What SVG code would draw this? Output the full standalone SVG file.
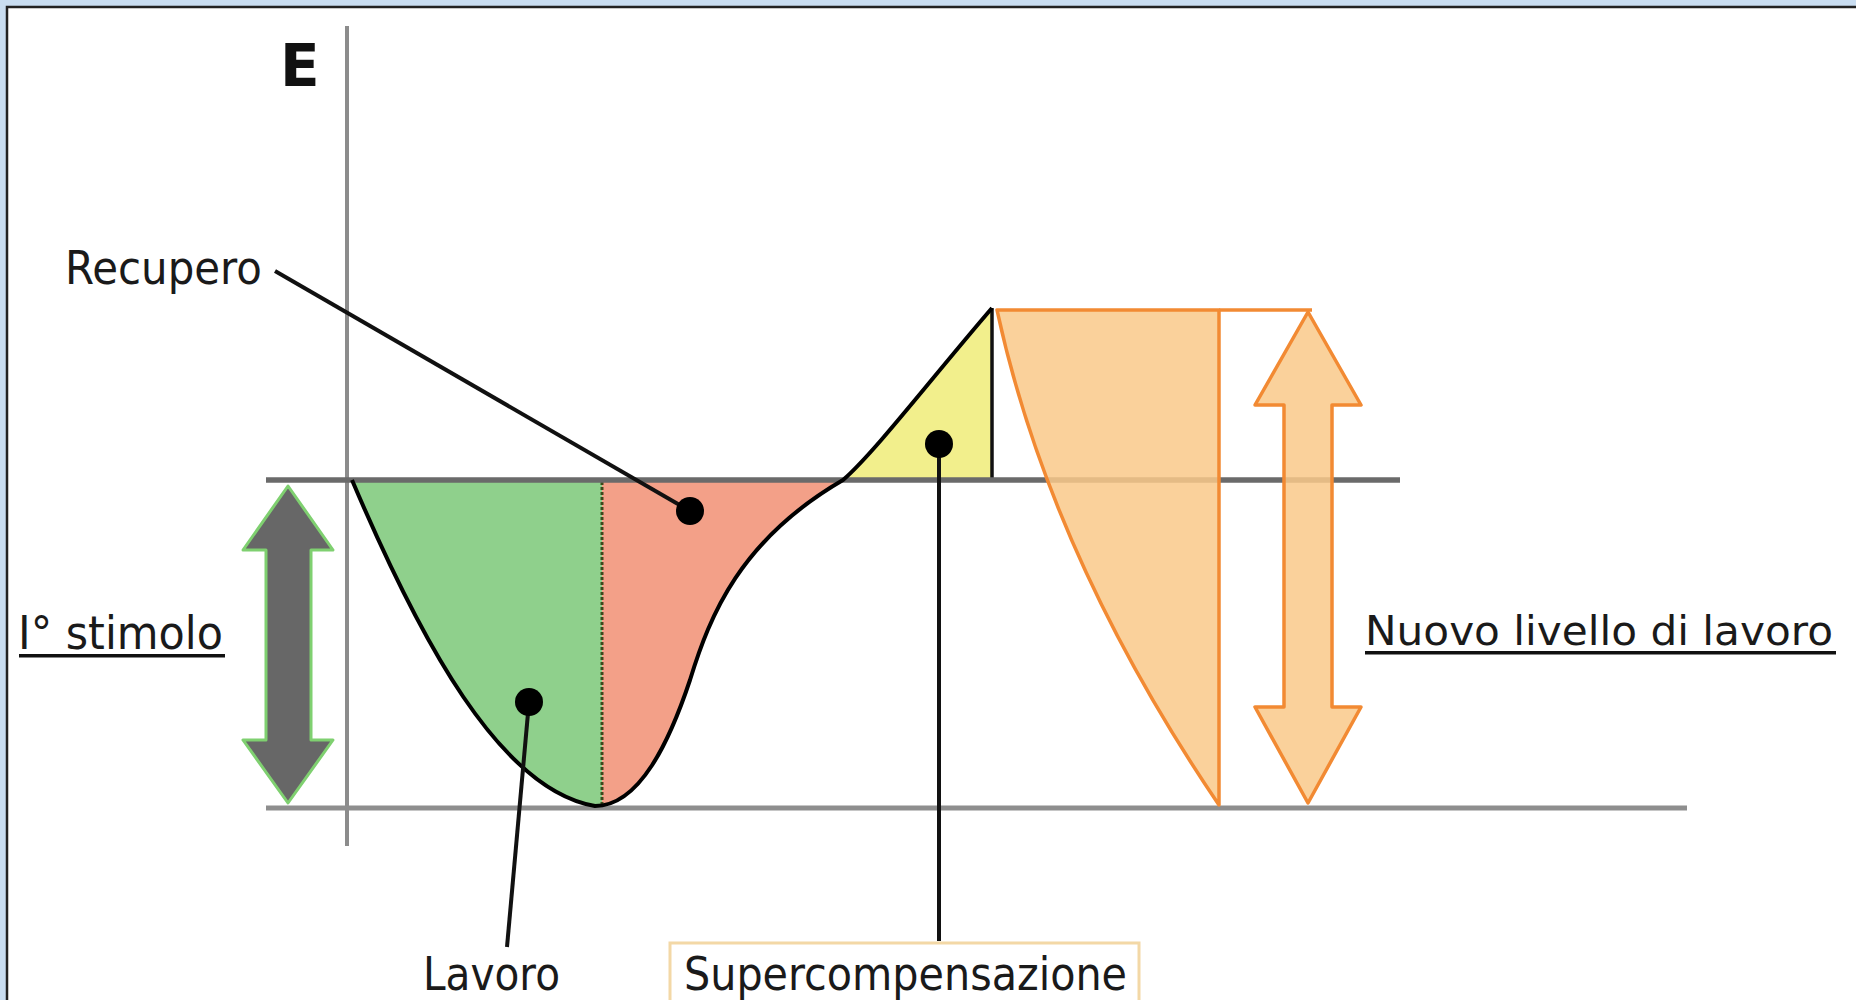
<svg xmlns="http://www.w3.org/2000/svg" width="1856" height="1000" viewBox="0 0 1856 1000">
<defs>
<style>
.lbl{font-family:"DejaVu Sans","Verdana",sans-serif;font-size:46px;fill:#1a1a1a}
.lbl-sm{font-family:"DejaVu Sans","Verdana",sans-serif;font-size:41px;fill:#1a1a1a}
.lead{stroke:#111;stroke-width:4;fill:none}
.dot{fill:#000}
.orange{fill:#f9c98a;stroke:#f28a33;stroke-width:3.5;stroke-linejoin:round}
.curve{fill:none;stroke:#000;stroke-width:4;stroke-linejoin:round}
</style>
<clipPath id="leftClip"><rect x="300" y="470" width="302" height="350"/></clipPath>
<clipPath id="rightClip"><rect x="602" y="470" width="300" height="350"/></clipPath>
</defs>
<rect x="0" y="0" width="1856" height="1000" fill="#c9ddf1"/>
<rect x="7" y="7" width="1849" height="993" fill="#ffffff"/>
<path d="M7,1000 L7,7 L1856,7" fill="none" stroke="#222" stroke-width="2.5"/>

<g id="axes">
<line x1="347" y1="26" x2="347" y2="846" stroke="#8c8c8c" stroke-width="4"/>
<line x1="266" y1="808" x2="1687" y2="808" stroke="#8e8e8e" stroke-width="5"/>
</g>

<g id="lavoro-area">
<path clip-path="url(#leftClip)" fill="#8fd08c" d="M352,480 C420,640 500,790 595,806 C640,806 670,740 690,680 C710,615 740,540 843,480 Z"/>
</g>
<g id="recupero-area">
<path clip-path="url(#rightClip)" fill="#f3a088" d="M352,480 C420,640 500,790 595,806 C640,806 670,740 690,680 C710,615 740,540 843,480 Z"/>
<line x1="602" y1="482" x2="602" y2="804" stroke="#3d4a1c" stroke-width="3" stroke-dasharray="3 2"/>
</g>
<g id="super-area">
<path fill="#f2ef8c" d="M843,480 C875,452 930,380 992,308 L992,480 Z"/>
<line x1="992" y1="308" x2="992" y2="480" stroke="#111" stroke-width="3.5"/>
</g>

<line x1="266" y1="480" x2="1400" y2="480" stroke="#6a6a6a" stroke-width="5.5"/>

<g id="curve">
<path class="curve" d="M352,480 C420,640 500,790 595,806 C640,806 670,740 690,680 C710,615 740,540 843,480 C875,452 930,380 992,308"/>
</g>

<g id="nuovo-area">
<path class="orange" fill-opacity="0.85" d="M997,310 L1219,310 L1219,805 Q1050,556 997,310 Z"/>
<line x1="1219" y1="310" x2="1312" y2="310" stroke="#f28a33" stroke-width="3.5"/>
<polygon class="orange" fill-opacity="0.85" points="1308,312 1361,405 1332,405 1332,707 1361,707 1308,803 1255,707 1284,707 1284,405 1255,405"/>
</g>

<g id="stimolo-arrow">
<polygon fill="#676767" stroke="#7fd070" stroke-width="3" stroke-linejoin="round" points="288,486 333,550 311,550 311,740 333,740 288,803 243,740 266,740 266,550 243,550"/>
</g>

<g id="connectors">
<line class="lead" x1="275" y1="271" x2="690" y2="511"/>
<line class="lead" x1="529" y1="702" x2="507" y2="947"/>
<line class="lead" x1="939" y1="444" x2="939" y2="941"/>
</g>

<g id="dots">
<circle class="dot" cx="690" cy="511" r="14"/>
<circle class="dot" cx="529" cy="702" r="14"/>
<circle class="dot" cx="939" cy="444" r="14"/>
</g>

<g id="label-E">
<text x="280" y="86" font-family="DejaVu Sans, sans-serif" font-weight="bold" font-size="58" fill="#111">E</text>
</g>
<g id="label-recupero">
<text class="lbl" x="65" y="284" textLength="197" lengthAdjust="spacingAndGlyphs">Recupero</text>
</g>
<g id="label-stimolo">
<text class="lbl" x="18" y="649" textLength="205" lengthAdjust="spacingAndGlyphs">I° stimolo</text>
<rect x="19" y="654" width="206" height="3.5" fill="#111"/>
</g>
<g id="label-nuovo">
<text class="lbl-sm" x="1365" y="645" textLength="468" lengthAdjust="spacingAndGlyphs">Nuovo livello di lavoro</text>
<rect x="1365" y="651" width="471" height="3.5" fill="#111"/>
</g>
<g id="label-lavoro">
<text class="lbl" x="423" y="990" textLength="137" lengthAdjust="spacingAndGlyphs">Lavoro</text>
</g>
<g id="label-super">
<rect x="670" y="943" width="469" height="80" fill="#fff" stroke="#f3d8a6" stroke-width="3"/>
<text class="lbl" x="684" y="990" textLength="443" lengthAdjust="spacingAndGlyphs">Supercompensazione</text>
</g>
</svg>
